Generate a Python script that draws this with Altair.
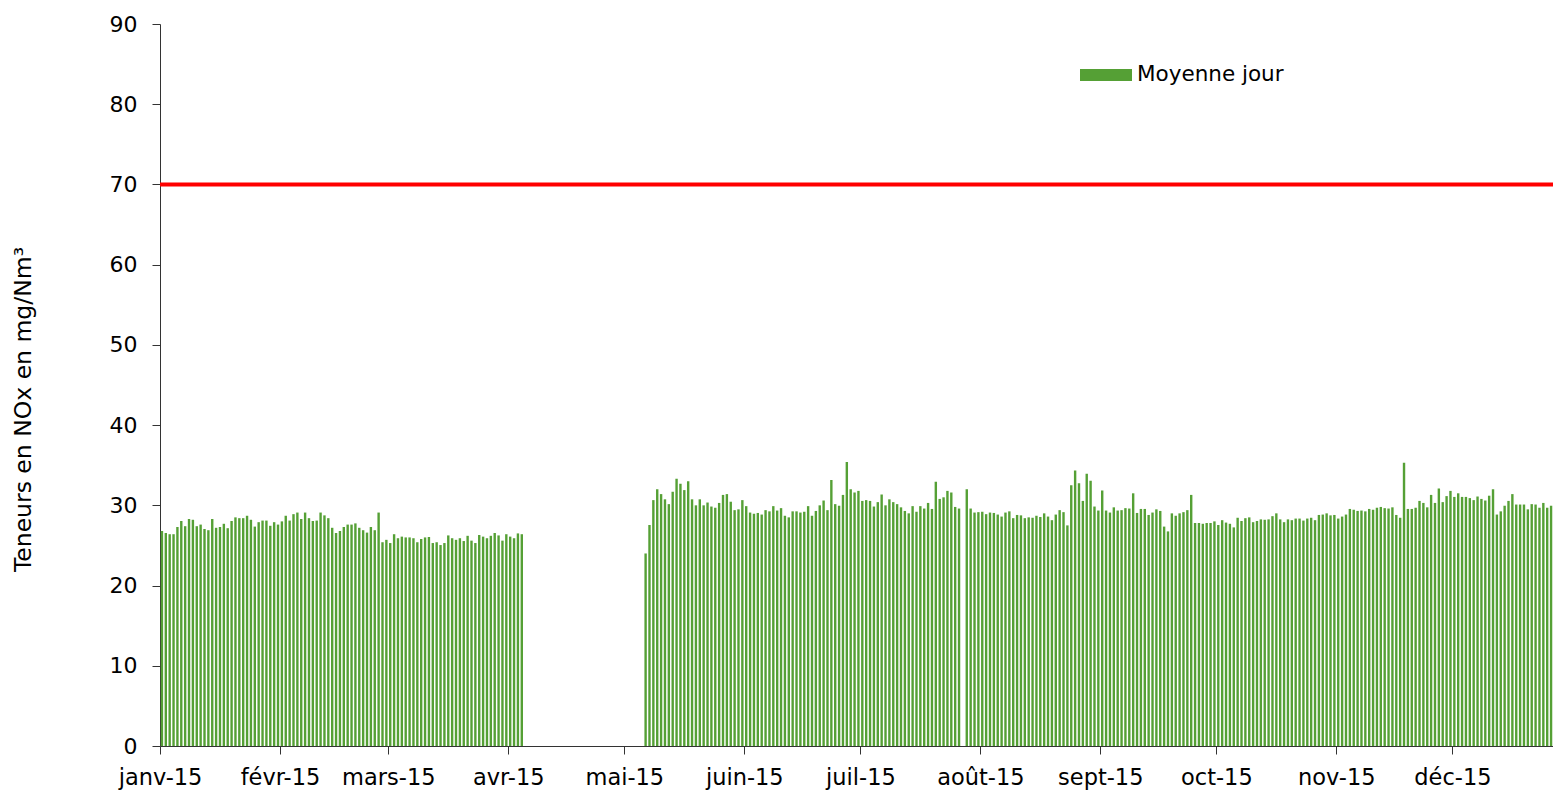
import json
import pandas as pd
import altair as alt

# ---- data (daily means, NOx mg/Nm3) ----
# segment 1 : 2015-01-01 .. 2015-04-04
SEG1_START = "2015-01-01"
SEG1 = [26.8, 26.55, 26.4, 26.4, 27.3, 28.05, 27.4, 28.3, 28.2, 27.4, 27.6, 27.05, 26.9, 28.3, 27.2,
        27.3, 27.7, 27.15, 28.05, 28.5, 28.4, 28.4, 28.7, 28.2, 27.35, 27.9, 28.1, 28.1, 27.45, 27.9,
        27.6, 28.0, 28.7,
        28.1, 28.9, 29.1, 28.3, 29.1, 28.4, 28.05, 28.1, 29.1, 28.75, 28.4, 27.2, 26.55, 26.8, 27.3,
        27.6, 27.6, 27.75, 27.2, 26.9, 26.6, 27.3, 26.9, 29.1, 25.4, 25.7, 25.3, 26.4, 25.9, 26.1,
        26.0, 26.0,
        25.9, 25.4, 25.8, 26.0, 26.05, 25.3, 25.4, 25.05, 25.3, 26.25, 25.9, 25.7, 25.9, 25.55, 26.2,
        25.6, 25.3, 26.3, 26.1, 25.9, 26.2, 26.55, 26.25, 25.6, 26.4, 26.1, 25.9, 26.5, 26.4]
# segment 2 : 2015-05-06 .. 2015-07-26
SEG2_START = "2015-05-06"
SEG2 = [24.0, 27.55, 30.65, 32.0, 31.4, 30.75, 30.15, 31.7, 33.3, 32.7, 31.9, 33.0, 30.75, 30.0,
        30.75, 30.0, 30.35, 29.85, 29.7, 30.3, 31.3, 31.4, 30.45, 29.4, 29.5, 30.65, 29.9, 29.1,
        28.95, 29.05, 28.85, 29.4,
        29.25, 29.9, 29.35, 29.65, 28.7, 28.5, 29.25, 29.25, 29.1, 29.2, 29.9, 28.7, 29.3, 30.0,
        30.6, 29.4, 33.15, 30.15, 29.95, 31.3, 35.4, 32.0, 31.6, 31.8, 30.55, 30.65, 30.55, 29.85,
        30.4, 31.35, 30.0, 30.75, 30.4,
        30.15, 29.75, 29.3, 29.0, 29.9, 29.2, 29.9, 29.6, 30.3, 29.55, 32.95, 30.8, 31.0, 31.8,
        31.6, 29.8, 29.6]
# segment 3 : 2015-07-28 .. 2015-12-28
SEG3_START = "2015-07-28"
SEG3 = [32.0, 29.6, 29.1, 29.15, 29.2, 28.9, 29.1, 29.05, 28.85, 28.6, 29.1, 29.25, 28.4, 28.8, 28.75,
        28.4, 28.5, 28.45, 28.7, 28.55, 29.0, 28.6, 28.15, 28.85, 29.4, 29.15, 27.5, 32.5, 34.35,
        32.75, 30.55, 33.95, 33.05, 29.85, 29.35, 31.85, 29.35, 29.1, 29.75, 29.35, 29.4, 29.65,
        29.6, 31.5, 29.05, 29.55, 29.55, 28.8,
        29.1, 29.5, 29.3, 27.35, 26.75, 29.0, 28.7, 29.0, 29.15, 29.4, 31.3, 27.8, 27.8, 27.7, 27.8,
        27.8, 28.0, 27.55, 28.15, 27.85, 27.7, 27.25, 28.45, 28.05, 28.4, 28.5, 27.9, 28.05, 28.25,
        28.2, 28.25, 28.65, 29.0,
        28.25, 27.9, 28.25, 28.15, 28.35, 28.35, 28.1, 28.35, 28.45, 28.15, 28.8, 28.85, 29.0, 28.75,
        28.8, 28.35, 28.6, 28.85, 29.55, 29.45, 29.3, 29.35, 29.25, 29.55, 29.45, 29.7, 29.8, 29.65,
        29.6, 29.75, 28.8, 28.45, 35.3,
        29.55, 29.55, 29.7, 30.55, 30.3, 29.75, 31.3, 30.3, 32.1, 30.4, 31.15, 31.8, 31.05, 31.5,
        31.05, 31.05, 30.9, 30.65, 31.1, 30.8, 30.6, 31.2, 32.0, 28.85, 29.25, 29.95, 30.55, 31.4,
        30.1, 30.1, 30.1, 29.5, 30.15, 30.1, 29.7, 30.3, 29.7, 29.95, 29.55, 29.5]

SERIES_NAME = "Moyenne jour"
LIMIT = 70
MONTH_LABELS = ["janv-15", "févr-15", "mars-15", "avr-15", "mai-15", "juin-15",
                "juil-15", "août-15", "sept-15", "oct-15", "nov-15", "déc-15"]
Y_TITLE = "Teneurs en NOx en mg/Nm³"

GREEN = "#55a035"
FONT = "DejaVu Sans"

rows = []
for start, vals in [(SEG1_START, SEG1), (SEG2_START, SEG2), (SEG3_START, SEG3)]:
    t0 = pd.Timestamp(start)
    for i, v in enumerate(vals):
        d = t0 + pd.Timedelta(days=i, hours=12)
        rows.append({"date": d.strftime("%Y-%m-%dT%H:%M:%S"), "value": v, "series": SERIES_NAME})
df = pd.DataFrame(rows)

label_expr = "%s[month(datum.value)]" % json.dumps(MONTH_LABELS)
month_ticks = [alt.DateTime(year=2015, month=m, date=1) for m in range(1, 13)]

x_enc = alt.X(
    "date:T",
    scale=alt.Scale(domain=[alt.DateTime(year=2015, month=1, date=1),
                            alt.DateTime(year=2015, month=12, date=27)],
                    padding=0),
    axis=alt.Axis(values=month_ticks, labelExpr=label_expr, title=None, grid=False,
                  tickSize=8, labelPadding=12, labelFont=FONT, labelFontSize=22.5,
                  labelColor="#000000", domainColor="#333333", tickColor="#333333",
                  labelAlign="center", labelOverlap=False, labelFlush=False),
)

bars = alt.Chart(df).mark_bar(width=2.4, clip=True).encode(
    x=x_enc,
    y=alt.Y("value:Q", scale=alt.Scale(domain=[0, 90]),
            axis=alt.Axis(values=list(range(0, 100, 10)), title=Y_TITLE, grid=False,
                          tickSize=8, labelPadding=15, labelFont=FONT, labelFontSize=22,
                          labelColor="#000000", domainColor="#333333", tickColor="#333333",
                          titleFont=FONT, titleFontSize=23.5, titleFontWeight="normal",
                          titleColor="#000000", titleAngle=270, titleX=-137, titleY=385,
                          titleAlign="center", titleBaseline="middle")),
    color=alt.Color("series:N", scale=alt.Scale(domain=[SERIES_NAME], range=[GREEN]),
                    legend=alt.Legend(title=None, orient="none", legendX=920, legendY=25,
                                      symbolType="M-1,-0.23H1V0.23H-1Z", symbolSize=2704,
                                      symbolStrokeWidth=0, labelFont=FONT, labelFontSize=21.5,
                                      labelColor="#000000", labelOffset=5, padding=0)),
)

limit_df = pd.DataFrame({"limit": [LIMIT]})
rule = alt.Chart(limit_df).mark_rule(color="#ff0000", strokeWidth=4).encode(y="limit:Q")

chart = (bars + rule).properties(
    width=1393, height=722, autosize="none",
    padding={"left": 152, "top": 16, "right": 0, "bottom": 44},
).configure_view(stroke=None)

chart.save("out.html", embed_options={"renderer": "svg", "actions": False})
